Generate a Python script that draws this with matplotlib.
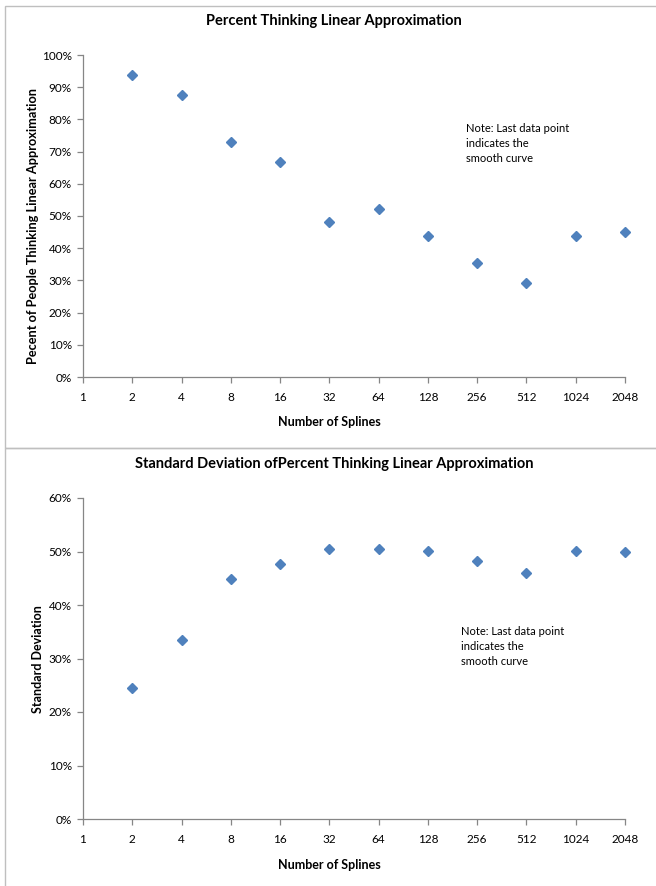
import matplotlib
matplotlib.use("Agg")
import matplotlib.pyplot as plt
from matplotlib.patches import Rectangle
from matplotlib.ticker import FixedLocator, FixedFormatter

splines = [2, 4, 8, 16, 32, 64, 128, 256, 512, 1024, 2048]
tick_vals = [1, 2, 4, 8, 16, 32, 64, 128, 256, 512, 1024, 2048]
tick_labels = ["1", "2", "4", "8", "16", "32", "64", "128", "256", "512", "1024", "2048"]
pct_linear = [93.8, 87.5, 73.0, 66.7, 48.0, 52.1, 43.8, 35.4, 29.2, 43.8, 44.9]
std_dev = [24.4, 33.4, 44.8, 47.6, 50.4, 50.4, 50.1, 48.3, 45.9, 50.1, 49.9]

FONT = "Lato"
plt.rcParams["font.family"] = [FONT, "DejaVu Sans"]
W, H = 656, 886
fig = plt.figure(figsize=(W / 100, H / 100), dpi=100)

def fx(px):
    return px / W

def fy(py):
    return 1 - py / H

border = "#BFBFBF"
axis_col = "#868686"
blue = "#4F81BD"

# panel borders
fig.add_artist(Rectangle((fx(5), fy(448)), fx(700), fy(6) - fy(448), transform=fig.transFigure,
                         fill=False, edgecolor=border, lw=1))
fig.add_artist(Rectangle((fx(5), fy(900)), fx(700), fy(448) - fy(900), transform=fig.transFigure,
                         fill=False, edgecolor=border, lw=1))

def setup(ax, ymax, ystep):
    ax.set_xscale("log", base=2)
    ax.set_xlim(1, 2048)
    ax.set_ylim(0, ymax)
    ax.xaxis.set_major_locator(FixedLocator(tick_vals))
    ax.xaxis.set_major_formatter(FixedFormatter(tick_labels))
    ax.xaxis.set_minor_locator(FixedLocator([]))
    yt = list(range(0, ymax + 1, ystep))
    ax.set_yticks(yt)
    ax.set_yticklabels([f"{v}%" for v in yt])
    for s in ["top", "right"]:
        ax.spines[s].set_visible(False)
    for s in ["left", "bottom"]:
        ax.spines[s].set_color(axis_col)
        ax.spines[s].set_linewidth(0.9)
    ax.tick_params(axis="both", colors=axis_col, labelcolor="black", labelsize=8.5,
                   length=4, width=0.9, direction="out")
    ax.tick_params(axis="x", pad=7)
    ax.tick_params(axis="y", pad=4)

ax1 = fig.add_axes([fx(83), fy(377), fx(625) - fx(83), fy(55) - fy(377)])
setup(ax1, 100, 10)
ax1.plot(splines, pct_linear, linestyle="none", marker="D", markersize=5.5,
         color=blue, markeredgecolor=blue, clip_on=False)

ax2 = fig.add_axes([fx(83), fy(819), fx(625) - fx(83), fy(498) - fy(819)])
setup(ax2, 60, 10)
ax2.plot(splines, std_dev, linestyle="none", marker="D", markersize=5.5,
         color=blue, markeredgecolor=blue, clip_on=False)

# titles
fig.text(fx(334), fy(21), "Percent Thinking Linear Approximation", ha="center", va="center",
         fontsize=10.5, fontweight="bold")
fig.text(fx(334), fy(464), "Standard Deviation ofPercent Thinking Linear Approximation",
         ha="center", va="center", fontsize=10.5, fontweight="bold")

# axis labels
fig.text(fx(329), fy(422), "Number of Splines", ha="center", va="center", fontsize=9,
         fontweight="bold")
fig.text(fx(329), fy(865), "Number of Splines", ha="center", va="center", fontsize=9,
         fontweight="bold")
fig.text(fx(33), fy(226), "Pecent of People Thinking Linear Approximation", ha="center",
         va="center", rotation=90, fontsize=9.2, fontweight="bold")
fig.text(fx(38), fy(659), "Standard Deviation", ha="center", va="center", rotation=90,
         fontsize=9, fontweight="bold")

# notes
note = "Note: Last data point\nindicates the\nsmooth curve"
fig.text(fx(466), fy(123), note, ha="left", va="top", fontsize=8, linespacing=1.45)
fig.text(fx(461), fy(626), note, ha="left", va="top", fontsize=8, linespacing=1.45)

fig.savefig("out.png", dpi=100)
